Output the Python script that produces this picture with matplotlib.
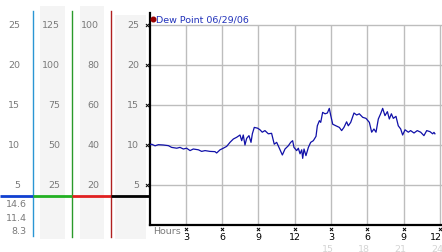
import matplotlib
matplotlib.use("Agg")
from matplotlib import pyplot as plt
from matplotlib.transforms import blended_transform_factory

# dew point trace (hours since midnight, value)
hours = [0.0, 0.18, 0.46, 0.73, 1.14, 1.56, 1.83, 2.25, 2.52, 2.80, 3.07, 3.35, 3.62,
         4.04, 4.31, 4.59, 5.0, 5.41, 5.55, 5.83, 6.10, 6.38, 6.65, 6.93, 7.20, 7.48,
         7.62, 7.75, 7.89, 8.03, 8.22, 8.39, 8.50, 8.66, 8.94, 9.13, 9.32, 9.54, 9.82,
         10.09, 10.31, 10.51, 10.70, 10.98, 11.20, 11.47, 11.67, 11.83, 11.94, 12.16,
         12.30, 12.44, 12.58, 12.66, 12.77, 12.93, 13.13, 13.32, 13.54, 13.76, 13.87,
         14.04, 14.15, 14.31, 14.51, 14.70, 14.86, 14.97, 15.14, 15.41, 15.69, 15.88,
         16.07, 16.29, 16.43, 16.63, 16.90, 17.12, 17.34, 17.62, 17.89, 18.17, 18.36,
         18.55, 18.72, 18.91, 19.10, 19.27, 19.46, 19.66, 19.82, 19.99, 20.15, 20.37,
         20.56, 20.76, 20.92, 21.12, 21.39, 21.58, 21.86, 22.13, 22.41, 22.68, 22.91,
         23.18, 23.40, 23.51, 23.59]
dew_point = [10.0, 10.1, 9.9, 10.04, 10.0, 9.92, 9.7, 9.6, 9.7, 9.5, 9.6, 9.3, 9.5,
             9.4, 9.2, 9.3, 9.2, 9.17, 9.0, 9.4, 9.6, 9.83, 10.33, 10.75, 10.96, 11.25,
             10.54, 11.25, 10.0, 10.83, 11.17, 10.33, 11.4, 12.2, 12.1, 11.9, 11.6, 11.8,
             11.4, 11.46, 10.1, 10.33, 9.7, 8.75, 9.5, 9.9, 10.33, 10.54, 9.7, 9.3,
             9.6, 8.9, 9.4, 8.33, 9.5, 8.67, 9.7, 10.33, 10.54, 11.08, 12.4,
             13.04, 12.83, 14.08, 13.9, 14.0, 14.58, 13.75, 12.6, 12.4, 12.2, 11.8,
             12.2, 12.9, 12.4, 12.83, 14.0, 13.75, 13.9, 13.46, 13.33, 12.83, 11.6,
             12.0, 11.6, 13.25, 13.9, 14.58, 13.67, 14.17, 13.25, 13.9, 13.33, 13.58,
             12.4, 12.0, 11.25, 11.9, 11.6, 11.8, 11.5, 11.8, 11.6, 11.17, 11.8,
             11.67, 11.4, 11.58, 11.4]

y_ticks = [5, 10, 15, 20, 25]
col1_labels = ["5", "10", "15", "20", "25"]
col2_labels = ["25", "50", "75", "100", "125"]
col3_labels = ["20", "40", "60", "80", "100"]
col4_labels = ["5", "10", "15", "20", "25"]
stats = ["14.6", "11.4", "8.3"]  # max, avg, min
x_ticks = [3, 6, 9, 12, 15, 18, 21, 24]
x_labels = ["3", "6", "9", "12", "3", "6", "9", "12"]
x_labels_24h = ["15", "18", "21", "24"]
legend_label = "Dew Point 06/29/06"

W, H = 442, 253
fig = plt.figure(figsize=(W / 100, H / 100), dpi=100)

# pixel overlay for the side panel
bg = fig.add_axes([0, 0, 1, 1], zorder=0)
bg.set_xlim(0, W)
bg.set_ylim(H, 0)
bg.axis("off")

x0, x1, ytop, ybot = 149.5, 442, 14, 226
ax = fig.add_axes([x0 / W, (H - ybot) / H, (x1 - x0) / W, (ybot - ytop) / H], zorder=1)
ax.set_xlim(0, (x1 - x0) / 12.1)
ax.set_ylim(0, 26.5)
ax.patch.set_alpha(0)
for s in ["top", "right"]:
    ax.spines[s].set_visible(False)
ax.spines["left"].set_linewidth(1.6)
ax.spines["bottom"].set_linewidth(1.6)
ax.set_xticks([])
ax.set_yticks([])

grid = "#bdbdbd"
ax.hlines(y_ticks, 0, ax.get_xlim()[1], colors=grid, lw=1, zorder=1)
ax.vlines(x_ticks, 0, 25, colors=grid, lw=1, zorder=1)
ax.plot(hours, dew_point, color="#1010a8", lw=0.9, zorder=3)

# side panel columns
for cx0, cx1, cy0 in [(40, 65, 7), (80, 104, 7), (115, 146, 16)]:
    bg.fill_between([cx0, cx1], cy0, 240, color="#f4f4f4", lw=0)
bg.plot([33, 33], [12, 237], color="#2a96d4", lw=1)
bg.plot([72, 72], [12, 238], color="#2a9a2a", lw=1)
bg.plot([111, 111], [12, 238], color="#b02020", lw=1)
bg.plot([0, 33], [196.5, 196.5], color="#1040d0", lw=2, solid_capstyle="butt")
bg.plot([33, 72], [196.5, 196.5], color="#22b022", lw=2, solid_capstyle="butt")
bg.plot([72, 111], [196.5, 196.5], color="#e02020", lw=2, solid_capstyle="butt")
bg.plot([111, 149], [196.5, 196.5], color="black", lw=2, solid_capstyle="butt")

ty = blended_transform_factory(bg.transData, ax.transData)
gray = "#7a7a7a"
fs = 6.8
for xr, labels in [(20, col1_labels), (60, col2_labels), (99, col3_labels), (139, col4_labels)]:
    for v, lab in zip(y_ticks, labels):
        bg.text(xr, v, lab, transform=ty, ha="right", va="center", fontsize=fs, color=gray)
for yy, lab in zip([204.5, 218.5, 232], stats):
    bg.text(27, yy, lab, ha="right", va="center", fontsize=fs, color=gray)

# tick marks and hour labels
bg.scatter([147] * len(y_ticks), y_ticks, transform=ty, marker="x", s=5, lw=0.7,
           color="black", clip_on=False, zorder=4)
tx = blended_transform_factory(ax.transData, bg.transData)
bg.scatter(x_ticks, [229.5] * len(x_ticks), transform=tx, marker="x", s=5, lw=0.7,
           color="black", clip_on=False, zorder=4)
for h, lab in zip(x_ticks[:-1], x_labels[:-1]):
    bg.text(h, 237.5, lab, transform=tx, ha="center", va="center", fontsize=fs, color="black")
bg.text(W - 0.5, 237.5, x_labels[-1], ha="right", va="center", fontsize=fs, color="black")
for h, lab in zip(x_ticks[4:], x_labels_24h):
    bg.text(h - 0.25, 250, lab, transform=tx, ha="center", va="center", fontsize=fs,
            color="#d4d4d4")
bg.text(153, 232, "Hours", ha="left", va="center", fontsize=fs, color=gray)

# legend (drawn on top of the chart axes)
ax.scatter([152.5], [20], transform=bg.transData, s=11, color="#990000", zorder=5,
           clip_on=False)
bg.text(155.5, 20, legend_label, ha="left", va="center", fontsize=fs, color="#2233bb")

fig.savefig("out.png", dpi=100)
